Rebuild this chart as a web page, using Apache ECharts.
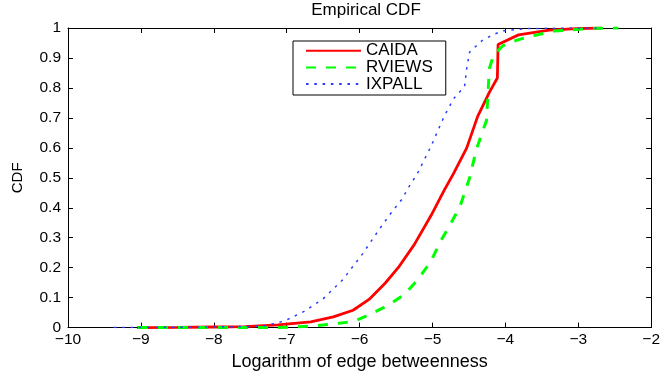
<!DOCTYPE html>
<html>
<head>
<meta charset="utf-8">
<script src="https://cdn.jsdelivr.net/npm/echarts@6/dist/echarts.min.js"></script>
<style>
  html, body { margin: 0; padding: 0; background: #fff; }
  #chart { width: 663px; height: 376px; }
</style>
</head>
<body>
<div id="chart"></div>
<script>
// Empirical CDF of log edge betweenness for three AS-level topologies
const seriesNames = ['CAIDA', 'RVIEWS', 'IXPALL'];

const caidaX = [-9.05, -8.5, -8.0, -7.57, -7.12, -6.67, -6.36, -6.09, -5.87, -5.65, -5.47, -5.25, -5.02, -4.84, -4.71, -4.53, -4.38, -4.22, -4.11, -4.1, -3.82, -3.4, -3.02, -2.68];
const caidaY = [0, 0.001, 0.002, 0.003, 0.009, 0.019, 0.036, 0.058, 0.094, 0.148, 0.2, 0.277, 0.374, 0.458, 0.515, 0.6, 0.705, 0.785, 0.833, 0.945, 0.977, 0.993, 0.998, 1.0];

const rviewsX = [-9.04, -8.0, -7.2, -6.9, -6.67, -6.41, -6.09, -5.87, -5.6, -5.38, -5.2, -5.02, -4.89, -4.76, -4.62, -4.49, -4.4, -4.31, -4.26, -4.24, -4.22, -4.16, -4.04, -3.9, -3.68, -3.33, -2.79, -2.45];
const rviewsY = [0, 0, 0, 0.002, 0.005, 0.011, 0.02, 0.043, 0.075, 0.112, 0.16, 0.222, 0.288, 0.342, 0.406, 0.5, 0.593, 0.657, 0.69, 0.775, 0.865, 0.91, 0.94, 0.955, 0.971, 0.99, 0.999, 1.0];

const ixpallX = [-9.37, -8.5, -8.0, -7.5, -7.3, -7.03, -6.76, -6.5, -6.23, -5.96, -5.69, -5.56, -5.42, -5.3, -5.22, -5.02, -4.84, -4.71, -4.56, -4.53, -4.49, -4.31, -4.17, -4.05, -3.7, -3.2, -2.75];
const ixpallY = [0, 0.001, 0.002, 0.004, 0.006, 0.022, 0.054, 0.096, 0.16, 0.246, 0.342, 0.385, 0.428, 0.48, 0.508, 0.605, 0.705, 0.764, 0.805, 0.865, 0.92, 0.96, 0.977, 0.99, 0.998, 1.0, 1.0];

const xTicks = { min: -10, max: -2, interval: 1 };
const yTicks = { min: 0, max: 1, interval: 0.1 };

const zip = (xs, ys) => xs.map((x, i) => [x, ys[i]]);

const FONT = 'Liberation Sans';
const AXIS_COLOR = '#000';
const NO_MARKER = 'rgba(0,0,0,0)';

const fmtX = v => (v < 0 ? '\u2212' + Math.abs(v) : String(v));
const fmtY = v => String(parseFloat(v.toFixed(1)));

const chart = echarts.init(document.getElementById('chart'), null, { renderer: 'canvas' });

const frameAxis = {
  axisLine: { show: true, onZero: false, lineStyle: { color: AXIS_COLOR, width: 1 } },
  axisTick: { show: true, inside: true, length: 5, lineStyle: { color: AXIS_COLOR, width: 1 } },
  splitLine: { show: false }
};

chart.setOption({
  animation: false,
  backgroundColor: '#fff',
  title: {
    text: 'Empirical CDF',
    left: 366,
    textAlign: 'center',
    top: 2,
    padding: 0,
    textStyle: { fontFamily: FONT, fontSize: 17, fontWeight: 'normal', color: '#000' }
  },
  legend: {
    data: seriesNames,
    orient: 'vertical',
    left: 293,
    top: 41,
    padding: [1.2, 13, 2.4, 12],
    itemWidth: 55,
    itemHeight: 14,
    itemGap: -0.3,
    itemTextGap: 5,
    itemStyle: { opacity: 0 },
    borderColor: '#000',
    borderWidth: 1,
    borderRadius: 0,
    backgroundColor: '#fff',
    textStyle: { fontFamily: FONT, fontSize: 17, color: '#000' }
  },
  grid: { left: 68, top: 28, width: 597, height: 312, containLabel: false },
  xAxis: [
    Object.assign({
      type: 'value', position: 'bottom',
      min: xTicks.min, max: xTicks.max, interval: xTicks.interval,
      name: 'Logarithm of edge betweenness',
      nameLocation: 'middle', nameGap: 17,
      nameTextStyle: { fontFamily: FONT, fontSize: 18, color: '#000' },
      axisLabel: { fontFamily: FONT, fontSize: 15.5, color: '#000', margin: 4.5, formatter: fmtX }
    }, frameAxis),
    Object.assign({
      type: 'value', position: 'top',
      min: xTicks.min, max: xTicks.max, interval: xTicks.interval,
      axisLabel: { show: false }
    }, frameAxis)
  ],
  yAxis: [
    Object.assign({
      type: 'value', position: 'left',
      min: yTicks.min, max: yTicks.max, interval: yTicks.interval,
      name: 'CDF',
      nameLocation: 'middle', nameGap: 43, nameRotate: 90,
      nameTextStyle: { fontFamily: FONT, fontSize: 15, color: '#000' },
      axisLabel: { fontFamily: FONT, fontSize: 15.5, color: '#000', margin: 7, formatter: fmtY }
    }, frameAxis),
    Object.assign({
      type: 'value', position: 'right',
      min: yTicks.min, max: yTicks.max, interval: yTicks.interval,
      axisLabel: { show: false }
    }, frameAxis)
  ],
  series: [
    {
      name: 'CAIDA', type: 'line', xAxisIndex: 0, yAxisIndex: 0,
      data: zip(caidaX, caidaY),
      showSymbol: false, symbol: 'none',
      lineStyle: { color: '#ff0000', width: 2.8, type: 'solid' },
      itemStyle: { color: NO_MARKER }
    },
    {
      name: 'RVIEWS', type: 'line', xAxisIndex: 0, yAxisIndex: 0,
      data: zip(rviewsX, rviewsY),
      showSymbol: false, symbol: 'none',
      lineStyle: { color: '#00ff00', width: 3, type: [10, 10] },
      itemStyle: { color: NO_MARKER }
    },
    {
      name: 'IXPALL', type: 'line', xAxisIndex: 0, yAxisIndex: 0,
      data: zip(ixpallX, ixpallY),
      showSymbol: false, symbol: 'none',
      lineStyle: { color: '#2a3cff', width: 1.5, type: [2.5, 5.8] },
      itemStyle: { color: NO_MARKER }
    }
  ]
});
</script>
</body>
</html>
